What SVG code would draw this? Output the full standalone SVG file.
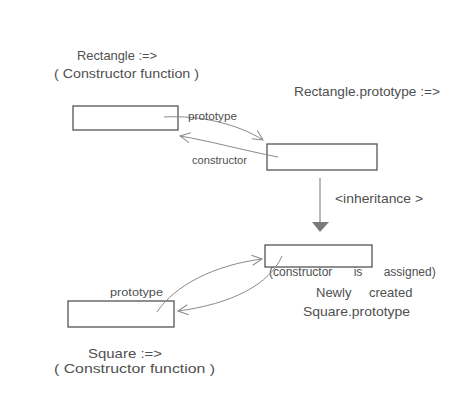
<svg xmlns="http://www.w3.org/2000/svg" width="474" height="414" viewBox="0 0 474 414">
<style>
text{font-family:"Liberation Sans","DejaVu Sans",sans-serif;fill:#505050;}
.lbl{font-size:13px;}
.mid{font-size:12px;}
.sm{font-size:11px;}
.box{fill:#ffffff;stroke:#555;stroke-width:1.3;}
.con{fill:none;stroke:#8a8a8a;stroke-width:1;}
</style>
<defs>
<marker id="open" markerUnits="userSpaceOnUse" markerWidth="14" markerHeight="14" viewBox="-12 -7 14 14" refX="0" refY="0" orient="auto">
<path d="M-10,-5 L0,0 L-10,5" fill="none" stroke="#8a8a8a" stroke-width="1"/>
</marker>
</defs>
<rect width="474" height="414" fill="#ffffff"/>

<g id="rectangle-ctor">
<rect class="box" x="73" y="106" width="105" height="24"/>
<text class="lbl" x="77" y="60" textLength="80" lengthAdjust="spacingAndGlyphs">Rectangle :=&gt;</text>
<text class="lbl" x="54" y="78" textLength="145" lengthAdjust="spacingAndGlyphs">( Constructor function )</text>
</g>

<g id="rectangle-prototype">
<rect class="box" x="267" y="144" width="110" height="26"/>
<text class="lbl" x="294" y="96" textLength="146" lengthAdjust="spacingAndGlyphs">Rectangle.prototype :=&gt;</text>
</g>

<g id="square-prototype">
<rect class="box" x="265" y="245" width="107" height="22"/>
<text class="mid" x="269" y="276" word-spacing="18">(constructor is assigned)</text>
<text class="lbl" x="316" y="297" word-spacing="14">Newly created</text>
<text class="lbl" x="303" y="316" textLength="107" lengthAdjust="spacingAndGlyphs">Square.prototype</text>
</g>

<g id="square-ctor">
<rect class="box" x="68" y="301" width="106" height="26"/>
<text class="lbl" x="88" y="358" textLength="74" lengthAdjust="spacingAndGlyphs">Square :=&gt;</text>
<text class="lbl" x="54" y="373" textLength="161" lengthAdjust="spacingAndGlyphs">( Constructor function )</text>
</g>

<g id="connectors">
<path class="con" d="M164,117 C200,115 238,124 263,140" marker-end="url(#open)"/>
<text class="sm" x="188" y="120" textLength="49" lengthAdjust="spacingAndGlyphs">prototype</text>
<path class="con" d="M278,157 C242,150 210,141 180,136" marker-end="url(#open)"/>
<text class="sm" x="192" y="164" textLength="55" lengthAdjust="spacingAndGlyphs">constructor</text>

<line x1="320" y1="178" x2="320" y2="223" stroke="#8a8a8a" stroke-width="1.2"/>
<polygon points="312,222 329,222 320,232" fill="#7a7a7a"/>
<text class="lbl" x="335" y="203" textLength="88" lengthAdjust="spacingAndGlyphs">&lt;inheritance &gt;</text>

<path class="con" d="M157,312 C175,285 215,265 262,259" marker-end="url(#open)"/>
<text class="sm" x="110" y="296" textLength="53" lengthAdjust="spacingAndGlyphs">prototype</text>
<path class="con" d="M282,256 C270,284 232,304 178,311" marker-end="url(#open)"/>
</g>
</svg>
